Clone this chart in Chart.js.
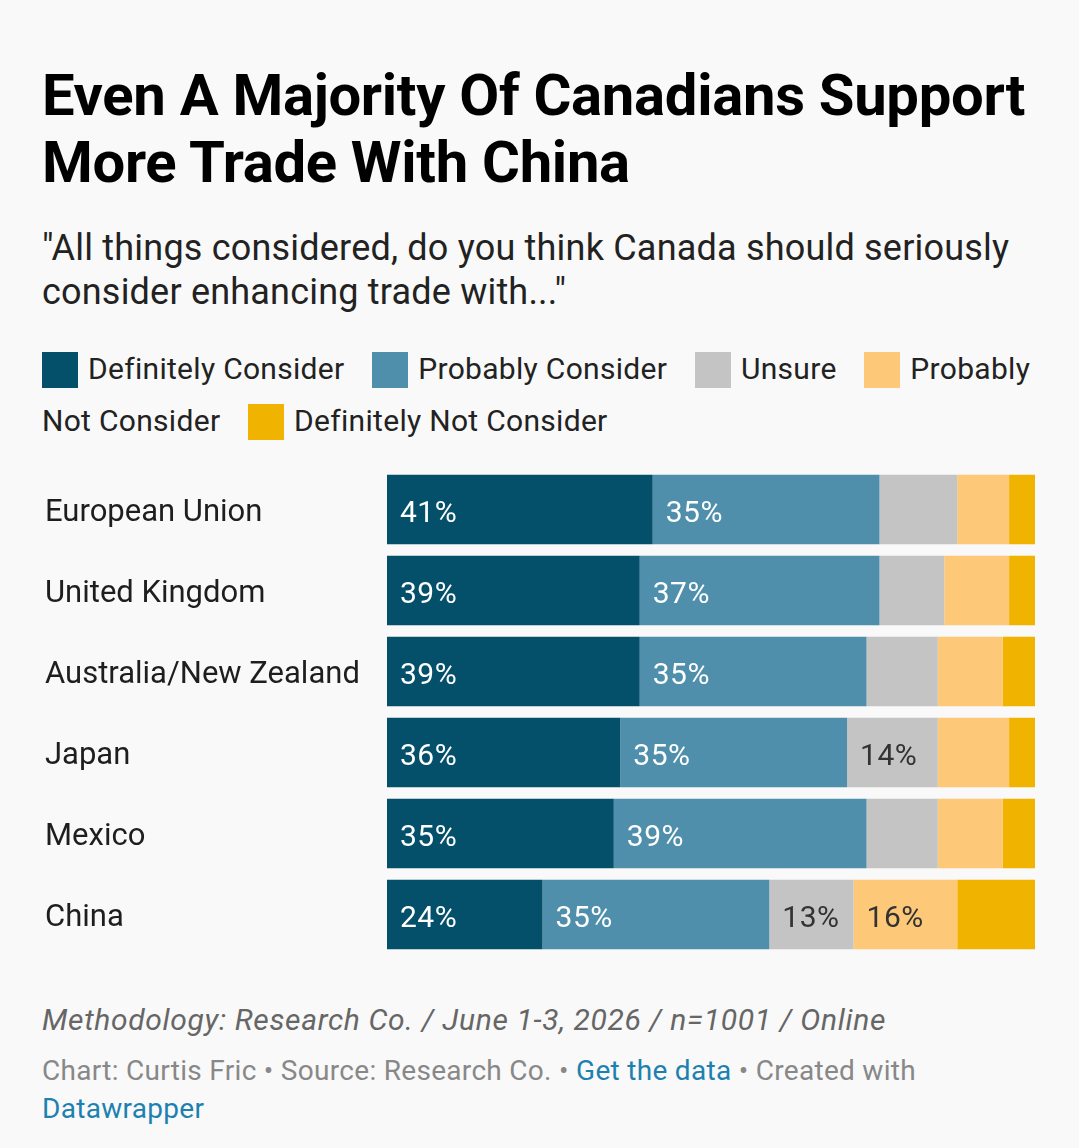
<!DOCTYPE html>
<html>
<head>
<meta charset="utf-8">
<script src="https://cdn.jsdelivr.net/npm/chart.js@4"></script>
<style>
  body { margin: 0; background: #f9f9f9; font-family: Roboto, sans-serif; }
  #wrap { position: relative; width: 1079px; height: 1148px; }
  h1 { position: absolute; left: 42px; top: 62px; margin: 0; width: 1010px;
       font-size: 58px; line-height: 67px; font-weight: 700; color: #000; letter-spacing: -0.3px; }
  .sub { position: absolute; left: 42px; top: 226px; width: 1010px; margin: 0;
         font-size: 36px; line-height: 44px; color: #222; letter-spacing: 0.2px; }
  .legend { position: absolute; left: 42px; top: 343px; width: 1000px;
            font-size: 30px; line-height: 52px; color: #222; letter-spacing: 0.3px; }
  .legend .sw { display: inline-block; width: 36px; height: 36px; vertical-align: -9px; margin-right: 10px; }
  .legend .it { margin-right: 20px; }
  #box { position: absolute; left: 45px; top: 469px; width: 990px; height: 486px; }
  .meth { position: absolute; left: 42px; top: 1002px; font-size: 30px; line-height: 36px;
          font-style: italic; color: #666; letter-spacing: 0.65px; }
  .cred { position: absolute; left: 42px; top: 1052px; width: 900px; font-size: 28px; line-height: 38px;
          color: #888; letter-spacing: 0.3px; }
  .cred a { color: #1d81b0; text-decoration: none; }
</style>
</head>
<body>
<div id="wrap">
  <h1>Even A Majority Of Canadians Support More Trade With China</h1>
  <p class="sub">"All things considered, do you think Canada should seriously consider enhancing trade with..."</p>
  <div class="legend" id="legend"></div>
  <div id="box"><canvas id="myChart"></canvas></div>
  <div class="meth">Methodology: Research Co. / June 1-3, 2026 / n=1001 / Online</div>
  <div class="cred">Chart: Curtis Fric • Source: Research Co. • <a href="#">Get the data</a> • Created with <a href="#">Datawrapper</a></div>
</div>
<script>
var categories = ['European Union', 'United Kingdom', 'Australia/New Zealand', 'Japan', 'Mexico', 'China'];
var seriesNames = ['Definitely Consider', 'Probably Consider', 'Unsure', 'Probably Not Consider', 'Definitely Not Consider'];
var definitelyConsider = [41, 39, 39, 36, 35, 24];
var probablyConsider = [35, 37, 35, 35, 39, 35];
var unsure = [12, 10, 11, 14, 11, 13];
var probablyNot = [8, 10, 10, 11, 10, 16];
var definitelyNot = [4, 4, 5, 4, 5, 12];
var colors = ['#04506a', '#4f8fab', '#c4c4c4', '#fdc877', '#f0b300'];
var labelColors = ['#fff', '#fff', '#333', '#333', '#333'];

// legend in html so it can wrap like the original
var leg = document.getElementById('legend');
var html = '';
for (var i = 0; i < seriesNames.length; i++) {
  html += '<span class="sw" style="background:' + colors[i] + '"></span><span class="it">' + seriesNames[i] + '</span> ';
}
leg.innerHTML = html;

var seriesValues = [definitelyConsider, probablyConsider, unsure, probablyNot, definitelyNot];

// draws the % inside segments big enough to hold it
var segLabels = {
  id: 'segLabels',
  afterDatasetsDraw: function (chart) {
    var ctx = chart.ctx;
    ctx.save();
    ctx.font = '30px Roboto, sans-serif';
    ctx.letterSpacing = '0.5px';
    ctx.textBaseline = 'alphabetic';
    ctx.textAlign = 'left';
    chart.data.datasets.forEach(function (ds, di) {
      var meta = chart.getDatasetMeta(di);
      meta.data.forEach(function (bar, j) {
        if (ds.data[j] < 13) return;
        ctx.fillStyle = labelColors[di];
        ctx.fillText(ds.data[j] + '%', bar.base + 13, bar.y + 12);
      });
    });
    ctx.restore();
  }
};

var ctx = document.getElementById('myChart').getContext('2d');
var myChart = new Chart(ctx, {
  type: 'bar',
  data: {
    labels: categories,
    datasets: seriesValues.map(function (vals, i) {
      return {
        label: seriesNames[i],
        data: vals,
        backgroundColor: colors[i],
        borderWidth: 0,
        barPercentage: 0.86,
        categoryPercentage: 1
      };
    })
  },
  options: {
    indexAxis: 'y',
    responsive: true,
    maintainAspectRatio: false,
    animation: false,
    layout: { padding: 0 },
    plugins: {
      legend: { display: false },
      tooltip: { enabled: false }
    },
    scales: {
      x: { stacked: true, min: 0, max: 100, display: false },
      y: {
        stacked: true,
        grid: { display: false },
        border: { display: false },
        ticks: {
          crossAlign: 'far',
          padding: 0,
          labelOffset: 4,
          color: '#1e1e1e',
          font: { family: 'Roboto', size: 31 }
        },
        afterFit: function (scale) {
          scale.width = 342;
          scale.paddingTop = 0;
          scale.paddingBottom = 0;
        }
      }
    }
  },
  plugins: [segLabels]
});
</script>
</body>
</html>
